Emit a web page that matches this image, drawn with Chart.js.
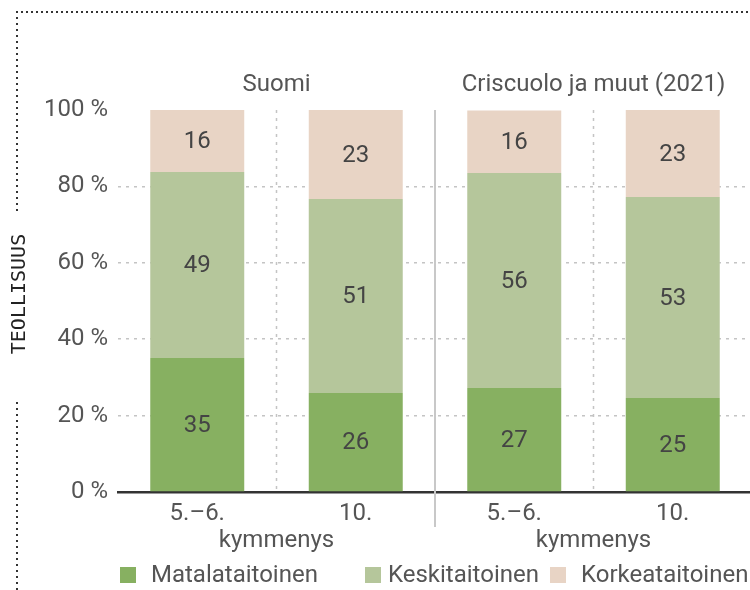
<!DOCTYPE html>
<html lang="fi">
<head>
<meta charset="utf-8">
<script src="https://cdn.jsdelivr.net/npm/chart.js@4/dist/chart.umd.min.js"></script>
<style>
  html, body { margin: 0; padding: 0; background: #fff; overflow: hidden; }
  #wrap { position: relative; width: 750px; height: 590px; overflow: hidden; font-family: Roboto, sans-serif; }
  #wrap canvas { position: absolute; left: 0; top: 0; }
  .dots-h { position: absolute; height: 2px; background: repeating-linear-gradient(90deg, #333 0 2px, transparent 2px 5px); }
  .dots-v { position: absolute; width: 2px; background: repeating-linear-gradient(180deg, #333 0 2px, transparent 2px 6px); }
  #side { position: absolute; left: 18px; top: 294px; transform: translate(-50%, -50%) rotate(-90deg);
          font: 20px "DejaVu Sans Mono", monospace; color: #222; white-space: nowrap; }
  .sw { position: absolute; width: 16px; height: 16px; top: 567px; }
  .lt { position: absolute; top: 560px; font-size: 24px; line-height: 28px; color: #555; white-space: nowrap; }
</style>
</head>
<body>
<div id="wrap">
  <canvas id="chart" width="756" height="590"></canvas>
  <div class="dots-h" style="left:16px; top:11px; width:734px;"></div>
  <div class="dots-v" style="left:16px; top:11px; height:203px;"></div>
  <div class="dots-v" style="left:16px; top:402px; height:188px;"></div>
  <div id="side">TEOLLISUUS</div>
  <div id="legend"></div>
</div>
<script>
// Data (shares in %)
const categories = ["5.–6.", "10.", "5.–6.", "10."];
const groupTitles = ["Suomi", "Criscuolo ja muut (2021)"];
const groupSubtitle = "kymmenys";
const seriesNames = ["Matalataitoinen", "Keskitaitoinen", "Korkeataitoinen"];
const matala = [35.1, 25.9, 27.2, 24.6];
const keski = [48.7, 50.8, 56.3, 52.6];
const korkea = [16.2, 23.3, 16.4, 22.8];
const yTicks = [0, 20, 40, 60, 80, 100];

const colors = ["#87b061", "#b5c69b", "#e8d4c5"];
const FONT = "Roboto, sans-serif";

// legend in html, positions matched to the reference
const legendPos = [[120, 151], [365, 388], [550, 581]];
const legendEl = document.getElementById("legend");
seriesNames.forEach((name, i) => {
  const sw = document.createElement("div");
  sw.className = "sw";
  sw.style.left = legendPos[i][0] + "px";
  sw.style.background = colors[i];
  const t = document.createElement("div");
  t.className = "lt";
  t.style.left = legendPos[i][1] + "px";
  t.textContent = name;
  legendEl.appendChild(sw);
  legendEl.appendChild(t);
});

// separators, value labels and group titles
const extras = {
  id: "extras",
  beforeDatasetsDraw(chart) {
    const { ctx, chartArea: a, scales: { x } } = chart;
    const mids = [];
    for (let i = 0; i < categories.length - 1; i++) {
      mids.push((x.getPixelForValue(i) + x.getPixelForValue(i + 1)) / 2);
    }
    ctx.save();
    mids.forEach((m, i) => {
      ctx.beginPath();
      if (i === 1) {
        ctx.setLineDash([]);
        ctx.strokeStyle = "#c8c8c8";
        ctx.lineWidth = 2;
        ctx.moveTo(m, a.top);
        ctx.lineTo(m, a.bottom + 35);
      } else {
        ctx.setLineDash([3, 5]);
        ctx.strokeStyle = "#c4c4c4";
        ctx.lineWidth = 1.5;
        ctx.moveTo(m, a.top);
        ctx.lineTo(m, a.bottom);
      }
      ctx.stroke();
    });
    ctx.restore();
  },
  afterDatasetsDraw(chart) {
    const { ctx } = chart;
    ctx.save();
    ctx.font = "24px " + FONT;
    ctx.fillStyle = "#444";
    ctx.textAlign = "center";
    ctx.textBaseline = "middle";
    chart.data.datasets.forEach((ds, di) => {
      chart.getDatasetMeta(di).data.forEach((el, i) => {
        ctx.fillText(Math.round(ds.data[i]), el.x, (el.y + el.base) / 2 + 1);
      });
    });
    ctx.restore();
  },
  afterDraw(chart) {
    const { ctx, chartArea: a, scales: { x } } = chart;
    ctx.save();
    ctx.font = "24px " + FONT;
    ctx.fillStyle = "#555";
    ctx.textAlign = "center";
    ctx.textBaseline = "alphabetic";
    groupTitles.forEach((g, gi) => {
      const cx = (x.getPixelForValue(gi * 2) + x.getPixelForValue(gi * 2 + 1)) / 2;
      ctx.fillText(g, cx, a.top - 19);
      ctx.fillText(groupSubtitle, cx, a.bottom + 55);
    });
    ctx.restore();
  }
};

new Chart(document.getElementById("chart"), {
  type: "bar",
  data: {
    labels: categories,
    datasets: [
      { label: seriesNames[0], data: matala, backgroundColor: colors[0] },
      { label: seriesNames[1], data: keski, backgroundColor: colors[1] },
      { label: seriesNames[2], data: korkea, backgroundColor: colors[2] },
    ],
  },
  options: {
    responsive: false,
    animation: false,
    layout: { padding: { top: 110, right: 4, left: 0, bottom: 0 } },
    datasets: { bar: { categoryPercentage: 1, barPercentage: 0.593, borderWidth: 0 } },
    plugins: { legend: { display: false }, tooltip: { enabled: false } },
    scales: {
      x: {
        stacked: true,
        offset: true,
        grid: { display: false, drawTicks: false },
        border: { display: true, color: "#333", width: 2.5 },
        ticks: { font: { family: FONT, size: 24 }, color: "#555", padding: 8, maxRotation: 0, autoSkip: false },
        afterFit: (s) => { s.height = 98; },
      },
      y: {
        stacked: true,
        min: 0,
        max: 100,
        afterBuildTicks: (s) => { s.ticks = yTicks.map((v) => ({ value: v })); },
        afterFit: (s) => { s.width = 118; },
        grid: {
          drawTicks: false,
          lineWidth: 1.5,
          color: (c) => (c.tick && (c.tick.value === 0 || c.tick.value === 100) ? "rgba(0,0,0,0)" : "#c4c4c4"),
        },
        border: { display: false, dash: [3, 5] },
        ticks: { font: { family: FONT, size: 24 }, color: "#555", padding: 10, callback: (v) => v + " %" },
      },
    },
  },
  plugins: [extras],
});
</script>
</body>
</html>
